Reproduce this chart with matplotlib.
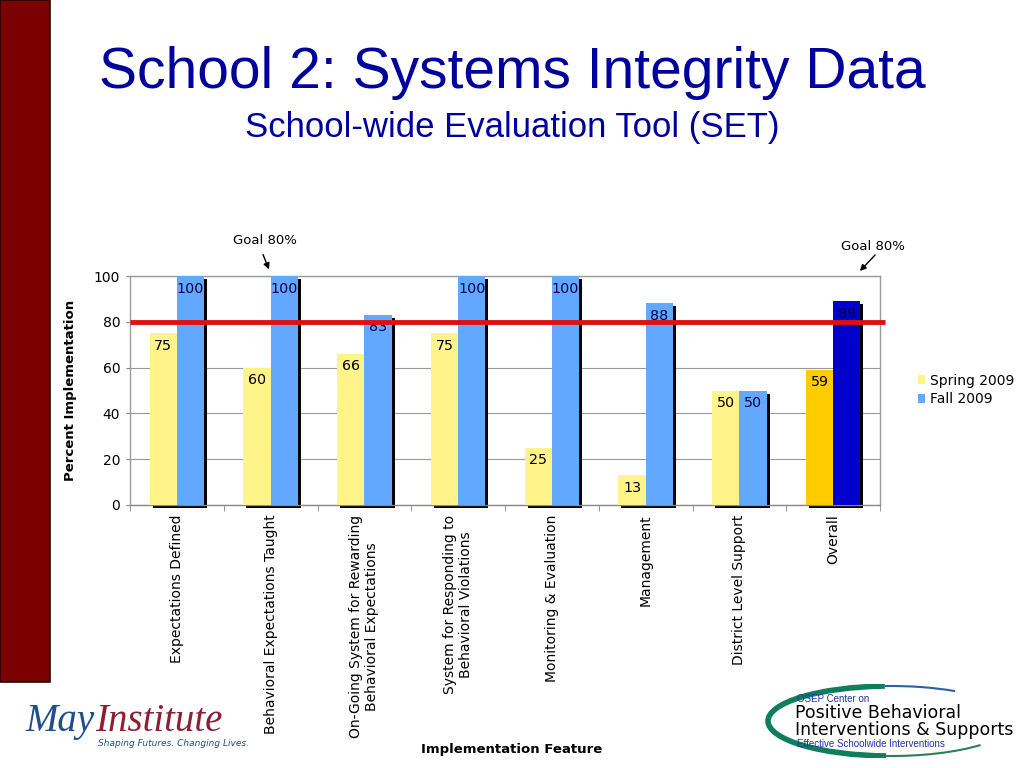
import matplotlib
matplotlib.use("Agg")
import matplotlib.pyplot as plt
import matplotlib.transforms as mtransforms
from matplotlib.patches import Rectangle, Patch, Arc
import numpy as np

categories = [
    "Expectations Defined",
    "Behavioral Expectations Taught",
    "On-Going System for Rewarding\nBehavioral Expectations",
    "System for Responding to\nBehavioral Violations",
    "Monitoring & Evaluation",
    "Management",
    "District Level Support",
    "Overall",
]
spring_2009 = [75, 60, 66, 75, 25, 13, 50, 59]
fall_2009 = [100, 100, 83, 100, 100, 88, 50, 89]
goal = 80
yticks = [0, 20, 40, 60, 80, 100]

spring_color = "#FFF38A"
fall_color = "#63A8FF"
overall_spring_color = "#FFCC00"
overall_fall_color = "#0000CC"

fig = plt.figure(figsize=(10.24, 7.68), dpi=100)
fig.patch.set_facecolor("white")

# left maroon band
fig.patches.append(Rectangle((0, 1 - 682 / 768), 50 / 1024, 682 / 768,
                             transform=fig.transFigure, facecolor="#7B0000",
                             edgecolor="#2a0000", linewidth=1.2, zorder=0))

ax = fig.add_axes([130 / 1024, 1 - 505 / 768, 750 / 1024, (505 - 276) / 768])
x = np.arange(len(categories))
w = 0.29

sc = [spring_color] * (len(categories) - 1) + [overall_spring_color]
fc = [fall_color] * (len(categories) - 1) + [overall_fall_color]

shadow = ax.transData + mtransforms.ScaledTranslation(3 / 100, -3 / 100, fig.dpi_scale_trans)
for xi, s, f in zip(x, spring_2009, fall_2009):
    for left, h in ((xi - w, s), (xi, f)):
        r = Rectangle((left, 0), w, h, facecolor="black", edgecolor="none",
                      transform=shadow, zorder=2, clip_on=False)
        ax.add_patch(r)

b1 = ax.bar(x - w / 2, spring_2009, w, color=sc, zorder=3, label="Spring 2009")
b2 = ax.bar(x + w / 2, fall_2009, w, color=fc, zorder=3, label="Fall 2009")

for xi, s, f in zip(x, spring_2009, fall_2009):
    ax.annotate(str(s), (xi - w / 2, s), xytext=(0, -4), textcoords="offset points",
                ha="center", va="top", fontsize=10.3, color="black", zorder=5,
                family="DejaVu Sans")
    ax.annotate(str(f), (xi + w / 2, f), xytext=(0, -4), textcoords="offset points",
                ha="center", va="top", fontsize=10.3, color="#000044", zorder=5,
                family="DejaVu Sans")

ax.set_xlim(-0.5, len(categories) - 0.5)
ax.set_ylim(0, 100)
ax.set_yticks(yticks)
ax.set_yticklabels([str(t) for t in yticks], fontsize=10)
ax.yaxis.grid(True, color="#999999", linewidth=0.8, zorder=0)
ax.set_axisbelow(True)
for sp in ax.spines.values():
    sp.set_color("#999999")
    sp.set_linewidth(1)
ax.spines["bottom"].set_color("#888888")
ax.tick_params(axis="y", length=3, color="#888888", pad=4)
ax.set_xticks(np.arange(len(categories) + 1) - 0.5, minor=True)
ax.set_xticks(x)
ax.set_xticklabels(categories, rotation=90, fontsize=10, va="top", ha="center",
                   multialignment="center")
ax.tick_params(axis="x", which="major", length=0, pad=7)
ax.tick_params(axis="x", which="minor", length=4, color="#888888")

# goal line
ax.plot([-0.5, 7.55], [goal, goal], color="#DD1111", linewidth=3.5, zorder=6,
        clip_on=False, solid_capstyle="butt")

ax.set_ylabel("Percent Implementation", fontsize=9.5, fontweight="bold", labelpad=12)
fig.text(512 / 1024, 1 - 749 / 768, "Implementation Feature", ha="center", va="center",
         fontsize=9.5, fontweight="bold")

# legend
handles = [Patch(facecolor=spring_color, edgecolor="none", label="Spring 2009"),
           Patch(facecolor=fall_color, edgecolor="none", label="Fall 2009")]
fig.legend(handles=handles, loc="center left", bbox_to_anchor=(912 / 1024, 1 - 390 / 768),
           frameon=False, fontsize=10, handlelength=0.55, handleheight=0.55,
           handletextpad=0.35, labelspacing=0.35, borderaxespad=0)

# goal annotations
fig.text(265 / 1024, 1 - 240 / 768, "Goal 80%", ha="center", va="center", fontsize=9.5)
ax.annotate("", xy=(270 / 1024, 1 - 272 / 768), xytext=(262 / 1024, 1 - 252 / 768),
            xycoords="figure fraction", textcoords="figure fraction",
            arrowprops=dict(arrowstyle="-|>", color="black", lw=1, mutation_scale=9),
            annotation_clip=False)
fig.text(873 / 1024, 1 - 246 / 768, "Goal 80%", ha="center", va="center", fontsize=9.5)
ax.annotate("", xy=(858 / 1024, 1 - 273 / 768), xytext=(877 / 1024, 1 - 253 / 768),
            xycoords="figure fraction", textcoords="figure fraction",
            arrowprops=dict(arrowstyle="-|>", color="black", lw=1, mutation_scale=9),
            annotation_clip=False)

# titles
fig.text(512 / 1024, 1 - 73 / 768, "School 2: Systems Integrity Data", ha="center",
         va="center", fontsize=41, color="#00009C", family="Liberation Sans")
fig.text(512 / 1024, 1 - 127 / 768, "School-wide Evaluation Tool (SET)", ha="center",
         va="center", fontsize=25, color="#00009C", family="Liberation Sans")

# May Institute logo (text)
t_may = fig.text(25 / 1024, 1 - 731 / 768, "May", ha="left", va="baseline", fontsize=28,
                 color="#1F4E8C", family="Liberation Serif", style="italic")
fig.texts.append(matplotlib.text.Annotation(
    "Institute", xy=(1.0, 0.0), xycoords=t_may, xytext=(1, 0), textcoords="offset points",
    ha="left", va="bottom", fontsize=28, color="#8B2035", family="Liberation Serif",
    style="italic"))
fig.texts[-1].set_figure(fig)
fig.text(98 / 1024, 1 - 743 / 768, "Shaping Futures. Changing Lives.", ha="left",
         va="center", fontsize=6.5, color="#1F4E8C", style="italic")

# PBIS logo (text)
logo_ax = fig.add_axes([765 / 1024, 1 - 758 / 768, 252 / 1024, 74 / 768])
logo_ax.set_xlim(0, 252)
logo_ax.set_ylim(0, 74)
logo_ax.axis("off")
logo_ax.add_patch(Arc((126, 37), 246, 70, theta1=100, theta2=262, color="#0E7F5A", lw=4))
logo_ax.add_patch(Arc((126, 37), 246, 70, theta1=25, theta2=100, color="#2D5FA8", lw=1.5))
logo_ax.add_patch(Arc((126, 37), 246, 70, theta1=262, theta2=345, color="#2D7F5A", lw=1.5))
logo_ax.text(32, 59, "OSEP Center on", fontsize=7, color="#2233AA", va="center",
             family="Liberation Sans")
logo_ax.text(30, 45, "Positive Behavioral", fontsize=12.5, color="black", va="center",
             family="DejaVu Sans")
logo_ax.text(30, 28, "Interventions & Supports", fontsize=12.5, color="black", va="center",
             family="DejaVu Sans")
logo_ax.text(32, 14, "Effective Schoolwide Interventions", fontsize=7, color="#2233AA",
             va="center", family="Liberation Sans")

fig.savefig("out.png", dpi=100)
